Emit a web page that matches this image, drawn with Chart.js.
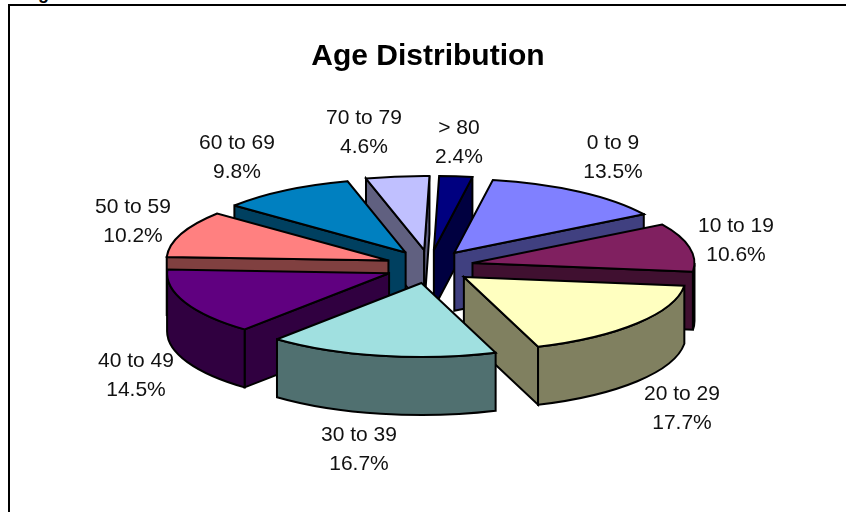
<!DOCTYPE html>
<html>
<head>
<meta charset="utf-8">
<title>Age Distribution</title>
<style>
html,body{margin:0;padding:0;background:#fff;overflow:hidden;width:846px;height:512px}
#wrap{position:relative;width:846px;height:512px;overflow:hidden}
canvas{position:absolute;left:0;top:0}
#frame{position:absolute;left:8px;top:4px;width:900px;height:600px;border:2px solid #000}
#cap{position:absolute;left:22px;top:-17px;font:bold 18px/20px "Liberation Sans",Arial,sans-serif;color:#000}
</style>
<script src="https://cdn.jsdelivr.net/npm/chart.js@4"></script>
</head>
<body>
<div id="wrap">
<div id="cap">Figure</div>
<div id="frame"></div>
<canvas id="c" width="846" height="512"></canvas>
</div>
<script>
const categories = ["0 to 9","10 to 19","20 to 29","30 to 39","40 to 49","50 to 59","60 to 69","70 to 79","> 80"];
const percents = [13.5,10.6,17.7,16.7,14.5,10.2,9.8,4.6,2.4];
const topColors = ["#8080FF","#802060","#FFFFC0","#A0E0E0","#600080","#FF8080","#0080C0","#C0C0FF","#000080"];
const wallColors = ["#404080","#401030","#808060","#507070","#300040","#804040","#004060","#606080","#000040"];
const labelCenters = [[613,158],[736,241],[682,409],[359,450],[136,376],[133,222],[237,158],[364,133],[459,143]];

const CENTER_X = 429.5, CENTER_Y = 266.6, RADIUS = 222, SQUASH = 1/3;
const EXPLODE_X = 44, EXPLODE_Y = 16.7, DEPTH = 58;
const INK = "#000";

function arcPath(ctx, ax, ay, a, b, ccw) {
  ctx.save();
  ctx.translate(ax, ay);
  ctx.scale(1, SQUASH);
  ctx.arc(0, 0, RADIUS, a, b, !!ccw);
  ctx.restore();
}
function paint(ctx, fill) {
  ctx.fillStyle = fill;
  ctx.fill();
  ctx.strokeStyle = INK;
  ctx.lineWidth = 2;
  ctx.lineJoin = "miter";
  ctx.miterLimit = 3;
  ctx.stroke();
}
function cutFace(ctx, ax, ay, a, fill) {
  const px = ax + RADIUS * Math.cos(a), py = ay + RADIUS * SQUASH * Math.sin(a);
  ctx.beginPath();
  ctx.moveTo(ax, ay);
  ctx.lineTo(px, py);
  ctx.lineTo(px, py + DEPTH);
  ctx.lineTo(ax, ay + DEPTH);
  ctx.closePath();
  paint(ctx, fill);
}
function outerWall(ctx, ax, ay, s, e, fill) {
  for (const shift of [-2 * Math.PI, 0, 2 * Math.PI]) {
    const a = Math.max(s + shift, 0), b = Math.min(e + shift, Math.PI);
    if (b > a) {
      ctx.beginPath();
      arcPath(ctx, ax, ay, a, b);
      arcPath(ctx, ax, ay + DEPTH, b, a, true);
      ctx.closePath();
      paint(ctx, fill);
    }
  }
}

const pie3d = {
  id: "pie3d",
  beforeDatasetsDraw(chart) {
    const ctx = chart.ctx;
    const arcs = chart.getDatasetMeta(0).data.map((arc, i) => {
      const p = arc.getProps(["x", "y", "startAngle", "endAngle"], true);
      const mid = (p.startAngle + p.endAngle) / 2;
      return {arc, i, p, mid,
        ax: CENTER_X + EXPLODE_X * Math.cos(mid),
        ay: CENTER_Y + EXPLODE_Y * Math.sin(mid)};
    });
    arcs.sort((u, v) => Math.sin(u.mid) - Math.sin(v.mid));
    for (const o of arcs) {
      const {arc, i, p, ax, ay} = o;
      const wall = wallColors[i];
      if (Math.cos(p.startAngle) < 0) cutFace(ctx, ax, ay, p.startAngle, wall);
      if (Math.cos(p.endAngle) > 0) cutFace(ctx, ax, ay, p.endAngle, wall);
      outerWall(ctx, ax, ay, p.startAngle, p.endAngle, wall);
      ctx.save();
      ctx.translate(ax, ay);
      ctx.scale(1, SQUASH);
      ctx.translate(-p.x, -p.y);
      arc.draw(ctx);
      ctx.restore();
      ctx.beginPath();
      ctx.moveTo(ax, ay);
      arcPath(ctx, ax, ay, p.startAngle, p.endAngle);
      ctx.closePath();
      ctx.strokeStyle = INK;
      ctx.lineWidth = 2;
      ctx.lineJoin = "miter";
      ctx.miterLimit = 3;
      ctx.stroke();
    }
    ctx.save();
    ctx.fillStyle = "#111";
    ctx.font = '21px "Liberation Sans", Arial, sans-serif';
    ctx.textAlign = "center";
    ctx.textBaseline = "middle";
    categories.forEach((name, i) => {
      const [x, y] = labelCenters[i];
      ctx.fillText(name, x, y - 14.5);
      ctx.fillText(percents[i].toFixed(1) + "%", x, y + 14.5);
    });
    ctx.restore();
    return false;
  }
};

new Chart(document.getElementById("c"), {
  type: "pie",
  data: {
    labels: categories,
    datasets: [{
      data: percents,
      backgroundColor: topColors,
      borderWidth: 0,
      radius: RADIUS
    }]
  },
  options: {
    responsive: false,
    animation: false,
    rotation: 10,
    layout: {padding: {left: 10}},
    plugins: {
      legend: {display: false},
      tooltip: {enabled: false},
      title: {
        display: true,
        text: "Age Distribution",
        color: "#000",
        font: {family: '"Liberation Sans", Arial, sans-serif', size: 30, weight: "bold"},
        padding: {top: 39, bottom: 10}
      }
    }
  },
  plugins: [pie3d]
});
</script>
</body>
</html>
